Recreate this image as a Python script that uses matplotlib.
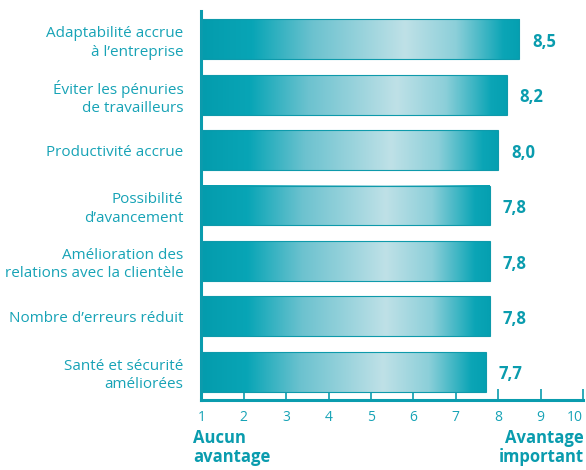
import numpy as np
import matplotlib.pyplot as plt
from matplotlib.colors import LinearSegmentedColormap
from matplotlib.patches import Rectangle
from matplotlib.font_manager import fontManager

categories = ["Adaptabilité accrue\nà l\u2019entreprise",
              "Éviter les pénuries\nde travailleurs",
              "Productivité accrue",
              "Possibilité\nd\u2019avancement",
              "Amélioration des\nrelations avec la clientèle",
              "Nombre d\u2019erreurs réduit",
              "Santé et sécurité\naméliorées"]
values = [8.5, 8.2, 8.0, 7.8, 7.8, 7.8, 7.7]
value_labels = ["8,5", "8,2", "8,0", "7,8", "7,8", "7,8", "7,7"]
xticks = [1, 2, 3, 4, 5, 6, 7, 8, 9, 10]

TEAL = "#17a3b6"
DARK = "#0a9cae"
names = {f.name for f in fontManager.ttflist}
NARROW = "Liberation Sans Narrow" in names
FONT = ["Liberation Sans Narrow", "DejaVu Sans"] if NARROW else ["Open Sans", "DejaVu Sans"]
BFONT = FONT

fig = plt.figure(figsize=(5.86, 4.70), dpi=100)
ax = fig.add_axes([0.3436, 0.149, 0.6514, 0.8276])

cmap = LinearSegmentedColormap.from_list(
    "bar", [(0.0, "#049cad"), (0.16, "#08a5b6"), (0.35, "#6cc2cf"),
            (0.64, "#bfe1e7"), (0.80, "#8ccfd9"), (0.95, "#0ba5b6"), (1.0, "#05a0b1")])
grad = np.linspace(0, 1, 256).reshape(1, -1)

h = 0.72
for i, v in enumerate(values):
    y0, y1 = i - h / 2, i + h / 2
    ax.imshow(grad, cmap=cmap, aspect="auto", extent=(1, v, y1, y0),
              interpolation="bilinear", zorder=2)
    ax.add_patch(Rectangle((1, y0), v - 1, h, fill=False, edgecolor="#0e9aab",
                           lw=0.8, zorder=3))
    ax.text(v + 0.3, i + 0.05, value_labels[i], ha="left", va="center",
            fontsize=13 if NARROW else 12, fontweight="bold", color=DARK, family=BFONT)

ax.set_xlim(1, 10)
ax.set_ylim(6.51, -0.51)
ax.set_yticks(range(len(categories)))
ax.set_yticklabels(categories, fontsize=13 if NARROW else 11, color=TEAL, family=FONT,
                   linespacing=1.3)
ax.tick_params(axis="y", length=0, pad=13)
ax.set_xticks(xticks)
labs = ax.set_xticklabels([str(t) for t in xticks], fontsize=11 if NARROW else 10,
                          color=TEAL, family=FONT)
labs[-1].set_horizontalalignment("right")
ax.tick_params(axis="x", direction="in", length=8, width=1.2, color=DARK, pad=7)

for s in ["top", "right"]:
    ax.spines[s].set_visible(False)
for s in ["left", "bottom"]:
    ax.spines[s].set_color(DARK)
    ax.spines[s].set_linewidth(2.2)

fig.text(193 / 586, 1 - 429 / 470, "Aucun\navantage", ha="left", va="top",
         fontsize=14 if NARROW else 12, fontweight="bold", color=DARK, family=BFONT,
         linespacing=1.1)
fig.text(584 / 586, 1 - 429 / 470, "Avantage\nimportant", ha="right", va="top",
         fontsize=14 if NARROW else 12, fontweight="bold", color=DARK, family=BFONT,
         linespacing=1.1)

fig.savefig("out.png", dpi=100)
